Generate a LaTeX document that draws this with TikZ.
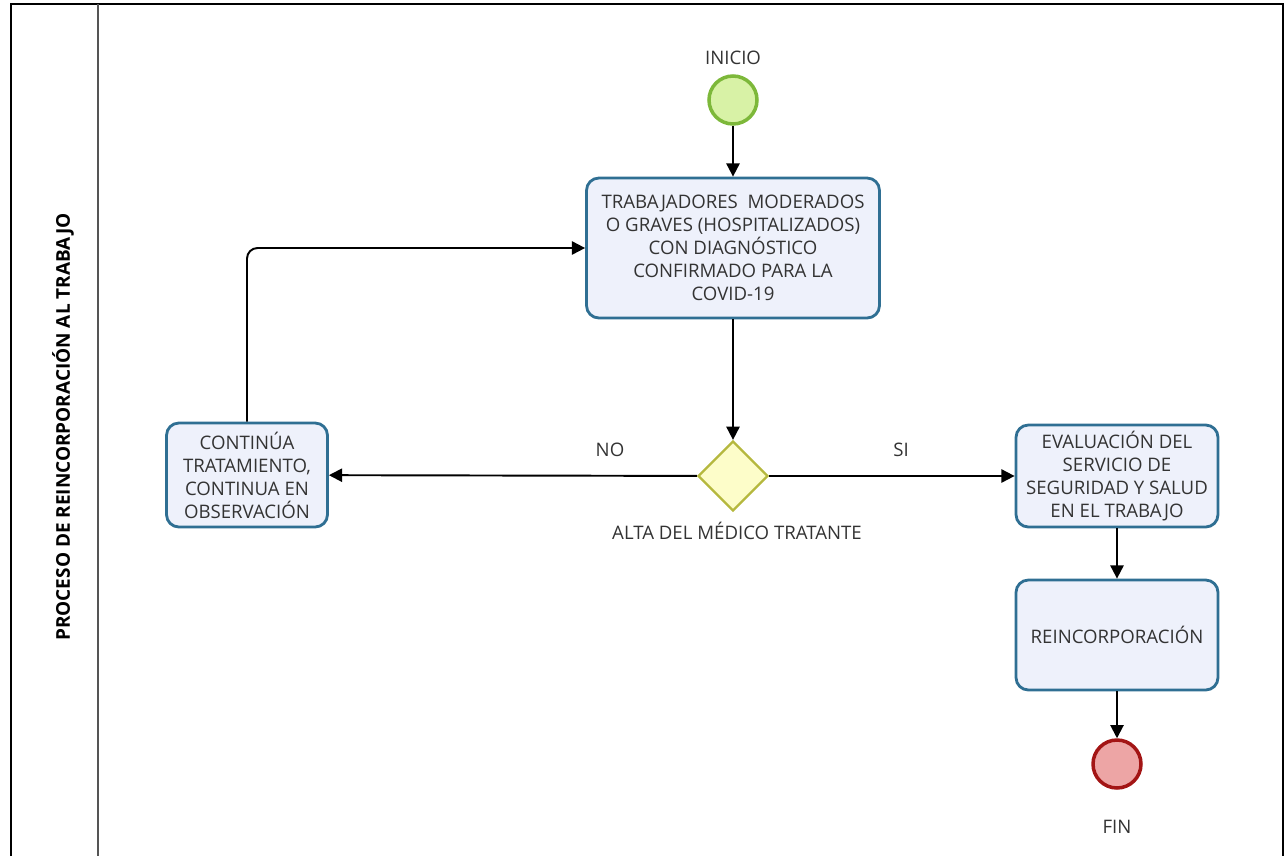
\documentclass[tikz,border=0pt]{standalone}
\usepackage{fontspec}
\setmainfont{Open Sans}
\usetikzlibrary{arrows.meta,positioning,shapes.geometric}
\definecolor{FlowBlue}{HTML}{2F6F93}
\definecolor{FlowBlueLight}{HTML}{EEF1FB}
\definecolor{StartGreen}{HTML}{7DB83A}
\definecolor{StartGreenLight}{HTML}{D8F2A6}
\definecolor{EndRed}{HTML}{A31515}
\definecolor{EndRedLight}{HTML}{EDA5A5}
\definecolor{GateOlive}{HTML}{B5B83E}
\definecolor{GateYellow}{HTML}{FDFDC9}
\definecolor{TextGrey}{HTML}{333333}
\definecolor{LaneGrey}{HTML}{555555}

\begin{document}
\begin{tikzpicture}[x=0.02cm,y=-0.02cm,
    task/.style={draw=FlowBlue,fill=FlowBlueLight,line width=1.6pt,rounded corners=7pt,
      align=center,text=TextGrey,font=\fontsize{10.6}{13.1}\selectfont,inner sep=2pt},
    event/.style={circle,minimum size=0.96cm,inner sep=0pt,line width=2pt},
    gate/.style={diamond,draw=GateOlive,fill=GateYellow,line width=1.3pt,
      minimum width=1.4cm,minimum height=1.4cm,inner sep=0pt},
    caption/.style={text=TextGrey,font=\fontsize{10.6}{13}\selectfont},
    flow/.style={line width=1.1pt,-{Triangle[length=7.5pt,width=7.5pt]}}]
    \useasboundingbox (0,0) rectangle (1285,856);
    % pool frame and lane header
    \draw[line width=1.2pt] (11,856) -- (11,4) -- (1283,4) -- (1283,856);
    \draw[LaneGrey,line width=1.2pt] (98,4) -- (98,856);
    \node[rotate=90,font=\fontsize{10.8}{12}\selectfont\bfseries] (lane) at (63,427)
      {PROCESO DE REINCORPORACIÓN AL TRABAJO};
    % events, tasks, gateway
    \node[event,draw=StartGreen,fill=StartGreenLight] (inicio) at (733,100) {};
    \node[caption] (inicioTxt) at (733,58) {INICIO};
    \node[task,minimum width=5.86cm,minimum height=2.8cm] (trab) at (733,248)
      {TRABAJADORES\ \ MODERADOS\\O GRAVES (HOSPITALIZADOS)\\CON DIAGNÓSTICO\\CONFIRMADO PARA LA\\COVID-19};
    \node[gate] (alta) at (733,476) {};
    \node[caption] (altaTxt) at (737,531) {ALTA DEL MÉDICO TRATANTE};
    \node[task,minimum width=3.22cm,minimum height=2.08cm] (contin) at (247,475)
      {CONTINÚA\\TRATAMIENTO,\\CONTINUA EN\\OBSERVACIÓN};
    \node[task,minimum width=4.04cm,minimum height=2.04cm] (evalua) at (1117,476)
      {EVALUACIÓN DEL\\SERVICIO DE\\SEGURIDAD Y SALUD\\EN EL TRABAJO};
    \node[task,minimum width=4.04cm,minimum height=2.2cm] (reinc) at (1117,635)
      {REINCORPORACIÓN};
    \node[event,draw=EndRed,fill=EndRedLight] (fin) at (1117,764) {};
    \node[caption] (finTxt) at (1117,827) {FIN};
    % connectors
    \draw[flow] (inicio) -- (trab);
    \draw[flow] (trab) -- (alta);
    \draw[flow] (alta) -- (contin);
    \draw[flow] (alta) -- (evalua);
    \draw[flow,rounded corners=6pt] (contin.north) |- (trab.west);
    \draw[flow] (evalua) -- (reinc);
    \draw[flow] (reinc) -- (fin);
    \node[caption] (noTxt) at (610,450) {NO};
    \node[caption] (siTxt) at (901,450) {SI};
\end{tikzpicture}
\end{document}
